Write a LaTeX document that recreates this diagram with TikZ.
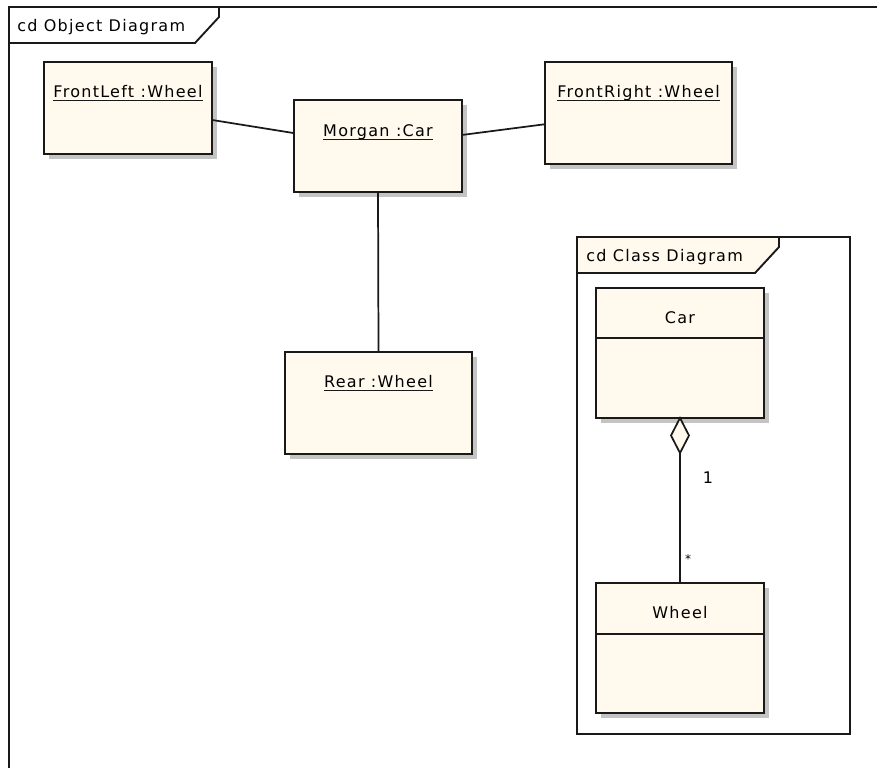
\documentclass[tikz,border=0pt]{standalone}
\usepackage{fontspec}
\setmainfont{DejaVu Sans}[LetterSpace=8]
\usetikzlibrary{shadows,calc}
\definecolor{cream}{RGB}{255,249,238}
\definecolor{shade}{RGB}{196,196,196}
\definecolor{ink}{RGB}{25,25,25}
\begin{document}
\begin{tikzpicture}[x=0.75pt,y=-0.75pt,
  obj/.style={draw=ink,line width=1.4pt,fill=cream,inner sep=0pt,outer sep=0pt,
    drop shadow={shadow xshift=4pt,shadow yshift=-4pt,fill=shade,opacity=1}},
  lbl/.style={font=\fontsize{12}{14}\selectfont,inner sep=0pt,anchor=base},
  conn/.style={draw=ink,line width=1.3pt},
  uline/.style={draw=ink,line width=1pt}
]
\useasboundingbox (0,0) rectangle (877,768);
\fill[white] (0,0) rectangle (877,768);
% outer frame
\draw[ink,line width=1.6pt] (877,7) -- (9,7) -- (9,768);
\draw[ink,line width=1.4pt] (9,43) -- (195,43) -- (219,17) -- (219,7);
\node[lbl,anchor=base west] (otitle) at (17,31) {cd Object Diagram};

% object nodes
\node[obj,minimum width=126pt,minimum height=69pt] (fl) at (128,108) {};
\node[lbl] (flt) at (128,97) {FrontLeft :Wheel};
\draw[uline] ([yshift=-2.5pt]flt.base west) -- ([yshift=-2.5pt]flt.base east);

\node[obj,minimum width=126pt,minimum height=69pt] (mc) at (378,146) {};
\node[lbl] (mct) at (378,136) {Morgan :Car};
\draw[uline] ([yshift=-2.5pt]mct.base west) -- ([yshift=-2.5pt]mct.base east);

\node[obj,minimum width=140.25pt,minimum height=76.5pt] (fr) at (638.5,113) {};
\node[lbl] (frt) at (638.5,97) {FrontRight :Wheel};
\draw[uline] ([yshift=-2.5pt]frt.base west) -- ([yshift=-2.5pt]frt.base east);

\node[obj,minimum width=140.25pt,minimum height=76.5pt] (rear) at (378.5,403) {};
\node[lbl] (reart) at (378.5,387) {Rear :Wheel};
\draw[uline] ([yshift=-2.5pt]reart.base west) -- ([yshift=-2.5pt]reart.base east);

% links
\draw[conn] ($(fl.north east)!0.63!(fl.south east)$) -- ($(mc.north west)!0.36!(mc.south west)$);
\draw[conn] ($(mc.north east)!0.38!(mc.south east)$) -- ($(fr.north west)!0.61!(fr.south west)$);
\draw[conn] (mc.south) -- (rear.north);

% class diagram frame
\node[draw=ink,line width=1.4pt,fill=white,inner sep=0pt,outer sep=0pt,
  minimum width=204.75pt,minimum height=372.75pt] (cf) at (713.5,485.5) {};
\fill[cream] (577,237) -- (577,273) -- (755,273) -- (779,247) -- (779,237) -- cycle;
\draw[ink,line width=1.4pt] (577,273) -- (755,273) -- (779,247) -- (779,237);
\draw[ink,line width=1.4pt] (cf.north west) rectangle (cf.south east);
\node[lbl,anchor=base west] (ctitle) at (586,261) {cd Class Diagram};

\node[obj,minimum width=126pt,minimum height=97.5pt] (car) at (680,353) {};
\node[lbl] (cart) at (680,323) {Car};
\draw[ink,line width=1.3pt] (car.west |- 0,338) -- (car.east |- 0,338);

\node[obj,minimum width=126pt,minimum height=97.5pt] (wheel) at (680,648) {};
\node[lbl] (wheelt) at (680,618) {Wheel};
\draw[ink,line width=1.3pt] (wheel.west |- 0,634) -- (wheel.east |- 0,634);

% aggregation
\filldraw[fill=cream,draw=ink,line width=1.3pt] (car.south) -- ++(-9,17.5) -- ++(9,17.5) coordinate (dbot) -- ++(9,-17.5) -- cycle;
\draw[conn] (dbot) -- (wheel.north);
\node[lbl] (m1) at (708,483) {1};
\node[font=\fontsize{9}{9}\selectfont,inner sep=0pt,anchor=north] (m2) at (688,554) {*};
\end{tikzpicture}
\end{document}
